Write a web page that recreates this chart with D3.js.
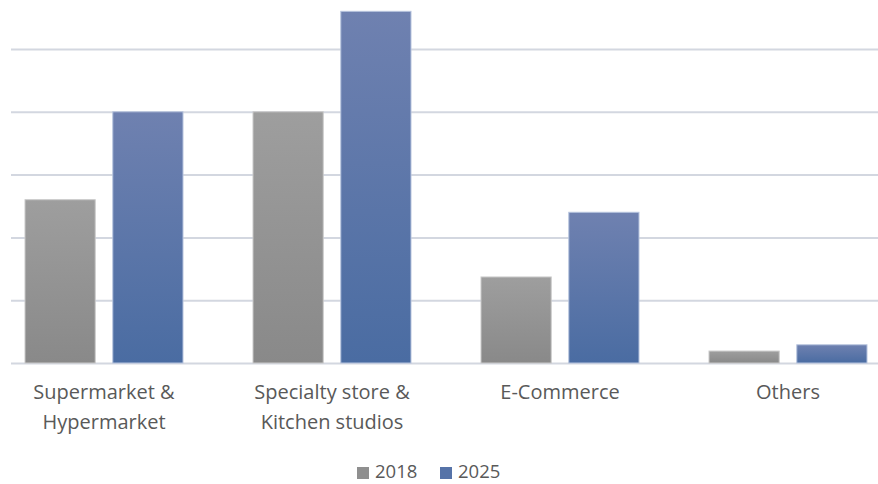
<!DOCTYPE html>
<html>
<head>
<meta charset="utf-8">
<script src="https://cdn.jsdelivr.net/npm/d3@7"></script>
<style>
  html, body { margin: 0; padding: 0; background: #fff; }
  svg { display: block; }
  text { font-family: "Open Sans", "DejaVu Sans Condensed", sans-serif; fill: #595959; }
</style>
</head>
<body>
<svg id="chart" width="878" height="484"></svg>
<script>
const categories = [["Supermarket &", "Hypermarket"], ["Specialty store &", "Kitchen studios"], ["E-Commerce"], ["Others"]];
const seriesNames = ["2018", "2025"];
const values2018 = [2.6, 4.0, 1.37, 0.19];
const values2025 = [4.0, 5.6, 2.4, 0.29];
const gridTicks = [0, 1, 2, 3, 4, 5];

const svg = d3.select("#chart");
const defs = svg.append("defs");
const grads = [
  { id: "g2018", top: "#9e9e9e", bottom: "#898989", stroke: "#c9c9c9" },
  { id: "g2025", top: "#6f81b0", bottom: "#4a6ca2", stroke: "#b7c4de" }
];
grads.forEach(g => {
  const lg = defs.append("linearGradient").attr("id", g.id)
    .attr("x1", 0).attr("y1", 0).attr("x2", 0).attr("y2", 1);
  lg.append("stop").attr("offset", "0%").attr("stop-color", g.top);
  lg.append("stop").attr("offset", "100%").attr("stop-color", g.bottom);
});

const idx = d3.range(categories.length);
const x = d3.scaleBand().domain(idx).range([-10, 902]).paddingInner(0.307).paddingOuter(0.1535);
const xs = d3.scaleBand().domain(seriesNames).range([0, x.bandwidth()]).paddingInner(0.2);
const y = d3.scaleLinear().domain([0, 5]).range([363, 49]);

// gridlines
const yAxis = d3.axisLeft(y).tickValues(gridTicks).tickSize(-(878 - 11)).tickFormat("");
const ga = svg.append("g").attr("transform", "translate(11,0)").call(yAxis);
ga.select(".domain").remove();
ga.selectAll(".tick line").attr("stroke", "#d3d7e0").attr("stroke-width", 2);

// bars
const data = [values2018, values2025];
seriesNames.forEach((s, si) => {
  svg.append("g").selectAll("rect").data(idx).join("rect")
    .attr("x", i => x(i) + xs(s))
    .attr("width", xs.bandwidth())
    .attr("y", i => y(data[si][i]))
    .attr("height", i => y(0) - y(data[si][i]))
    .attr("fill", `url(#${grads[si].id})`)
    .attr("stroke", grads[si].stroke)
    .attr("stroke-width", 1);
});

// category labels
const xAxis = d3.axisBottom(x).tickSize(0).tickFormat("");
const xa = svg.append("g").attr("transform", "translate(0,363)").call(xAxis);
xa.select(".domain").remove();
xa.selectAll(".tick").each(function(i) {
  const t = d3.select(this).append("text")
    .attr("text-anchor", "middle")
    .style("font-size", "20px");
  categories[i].forEach((line, li) => {
    t.append("tspan").attr("x", 0).attr("y", 36 + li * 30).text(line);
  });
});

// legend
const legendX = [357, 440];
const leg = svg.append("g");
seriesNames.forEach((s, si) => {
  leg.append("rect").attr("x", legendX[si]).attr("y", 467).attr("width", 12).attr("height", 12)
    .attr("fill", si === 0 ? "#8f8f8f" : "#5673a8");
  leg.append("text").attr("x", legendX[si] + 18).attr("y", 478)
    .style("font-size", "18.5px").text(s);
});
</script>
</body>
</html>
